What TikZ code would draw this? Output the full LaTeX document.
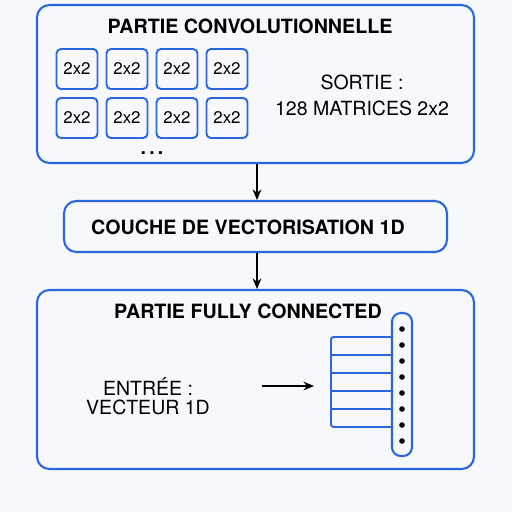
\documentclass[tikz,border=0pt]{standalone}
\usepackage{fontspec}
\setmainfont{TeX Gyre Heros}
\usetikzlibrary{positioning,calc,arrows.meta}
\definecolor{bleucadre}{HTML}{2A66E0}
\definecolor{fondclair}{HTML}{F6F8FC}

\begin{document}
\begin{tikzpicture}[x=0.02cm,y=-0.02cm,
		bloc/.style={draw=bleucadre,line width=1.2pt,rounded corners=7pt,inner sep=0pt},
		matrice/.style={draw=bleucadre,line width=1.1pt,rounded corners=2.5pt,minimum width=0.82cm,minimum height=0.8cm,inner sep=0pt,font=\fontsize{9.6}{10}\selectfont},
		titre/.style={font=\fontsize{11.2}{12}\selectfont\bfseries},
		texte/.style={font=\fontsize{11.1}{14.7}\selectfont,align=center},
		fleche/.style={-{Stealth[length=6pt,width=5pt]},line width=0.8pt}]
		\fill[fondclair] (0,0) rectangle (512,512);
		\useasboundingbox (0,0) rectangle (512,512);
		%
		\node[bloc,minimum width=8.74cm,minimum height=3.16cm] (conv) at (255.5,84) {};
		\node[titre] (titreconv) at (250,26) {PARTIE CONVOLUTIONNELLE};
		\foreach \i/\cx in {1/77,2/127,3/177,4/227}{
			\node[matrice] (m1\i) at (\cx,69) {2x2};
			\node[matrice] (m2\i) at (\cx,118) {2x2};
		}
		\node[font=\fontsize{11}{12}\selectfont\bfseries] (points) at (152,153) {.\,.\,.};
		\node[texte] (sortie) at (362,95) {SORTIE :\\128 MATRICES 2x2};
		%
		\node[bloc,minimum width=7.66cm,minimum height=1.02cm] (vect) at (255.5,226.5) {};
		\node[titre] (titrevect) at (248,227) {COUCHE DE VECTORISATION 1D};
		%
		\node[bloc,minimum width=8.74cm,minimum height=3.58cm] (fc) at (255.5,379.5) {};
		\node[titre] (titrefc) at (248,311) {PARTIE FULLY CONNECTED};
		\node[texte,font=\fontsize{11.1}{11}\selectfont] (entree) at (148,396) {ENTRÉE :\\VECTEUR 1D};
		%
		\node[draw=bleucadre,line width=1.2pt,rounded corners=5pt,minimum width=0.4cm,minimum height=2.86cm,inner sep=0pt] (vecteur) at (402,384.5) {};
		\foreach \k in {0,...,7}
			\fill (402,329+16*\k) circle (1.6pt);
		\draw[bleucadre,line width=1.1pt,rounded corners=1.5pt] (vecteur.west|-0,337) -- (331,337) -- (331,427) -- (vecteur.west|-0,427);
		\foreach \r in {355,373,391,409}
			\draw[bleucadre,line width=1.1pt] (331,\r) -- (vecteur.west|-0,\r);
		\coordinate (depart) at (262,386);
		\coordinate (arrivee) at (314,386);
		%
		\draw[fleche] (conv.south-|257,0) -- (vect.north-|257,0);
		\draw[fleche] (vect.south-|257,0) -- (fc.north-|257,0);
		\draw[fleche] (depart) -- (arrivee);
	\end{tikzpicture}
\end{document}
